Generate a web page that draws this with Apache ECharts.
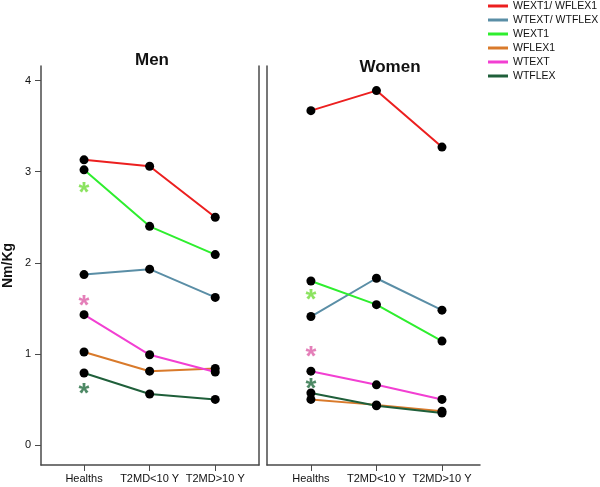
<!DOCTYPE html>
<html>
<head>
<meta charset="utf-8">
<script src="https://cdn.jsdelivr.net/npm/echarts@6/dist/echarts.min.js"></script>
<style>html,body{margin:0;padding:0;background:#fff;}#chart{width:600px;height:487px;}</style>
</head>
<body>
<div id="chart"></div>
<script>
const categories = ['Healths', 'T2MD<10 Y', 'T2MD>10 Y'];
const seriesNames = ['WEXT1/ WFLEX1', 'WTEXT/ WTFLEX', 'WEXT1', 'WFLEX1', 'WTEXT', 'WTFLEX'];
const seriesColors = ['#ec1f1f', '#5a8ea6', '#2eee2e', '#d97a2b', '#f23fd2', '#1f5f3a'];
const yTicks = [0, 1, 2, 3, 4];

// Men
const menWEXT1_WFLEX1 = [3.13, 3.06, 2.50];
const menWTEXT_WTFLEX = [1.87, 1.93, 1.62];
const menWEXT1 = [3.02, 2.40, 2.09];
const menWFLEX1 = [1.02, 0.81, 0.84];
const menWTEXT = [1.43, 0.99, 0.80];
const menWTFLEX = [0.79, 0.56, 0.50];

// Women
const womenWEXT1_WFLEX1 = [3.67, 3.89, 3.27];
const womenWTEXT_WTFLEX = [1.41, 1.83, 1.48];
const womenWEXT1 = [1.80, 1.54, 1.14];
const womenWFLEX1 = [0.50, 0.44, 0.37];
const womenWTEXT = [0.81, 0.66, 0.50];
const womenWTFLEX = [0.57, 0.43, 0.35];

// Significance asterisks at "Healths"
const starNames = ['WEXT1', 'WTEXT', 'WTFLEX'];
const starColors = ['#6fdc3a', '#dd5fa8', '#226b3e'];
const menStars = [2.83, 1.59, 0.62];
const womenStars = [1.65, 1.03, 0.68];

const menData = [menWEXT1_WFLEX1, menWTEXT_WTFLEX, menWEXT1, menWFLEX1, menWTEXT, menWTFLEX];
const womenData = [womenWEXT1_WFLEX1, womenWTEXT_WTFLEX, womenWEXT1, womenWFLEX1, womenWTEXT, womenWTFLEX];

const FONT = 'Liberation Sans, Arial, sans-serif';
const axisCol = '#4a4a4a';

function lineSeries(name, vals, color, gi) {
  return {
    name: name, type: 'line', xAxisIndex: gi, yAxisIndex: gi,
    data: vals.map((v, i) => [i, v]),
    symbol: 'circle', symbolSize: 9,
    lineStyle: { color: color, width: 2 },
    itemStyle: { color: '#000', borderWidth: 0 },
    z: 3
  };
}
function starSeries(vals, gi) {
  return {
    type: 'scatter', xAxisIndex: gi, yAxisIndex: gi,
    data: vals.map((v, i) => ({ value: [0, v], label: { color: starColors[i] } })),
    symbol: 'circle', symbolSize: 1,
    itemStyle: { color: 'rgba(0,0,0,0)' },
    label: { show: true, formatter: '*', position: 'inside', fontSize: 28, fontWeight: 'bold', fontFamily: FONT, offset: [0, 6] },
    silent: true, z: 4
  };
}

const series = [];
seriesNames.forEach((n, i) => series.push(lineSeries(n, menData[i], seriesColors[i], 0)));
seriesNames.forEach((n, i) => series.push(lineSeries(n, womenData[i], seriesColors[i], 1)));
series.push(starSeries(menStars, 0));
series.push(starSeries(womenStars, 1));

function xAxis(gi, min, max) {
  return {
    type: 'value', gridIndex: gi, min: min, max: max,
    axisLine: { show: true, onZero: false, lineStyle: { color: axisCol, width: 1.5 } },
    axisTick: { show: true, customValues: [0, 1, 2], length: 6, lineStyle: { color: axisCol } },
    axisLabel: { customValues: [0, 1, 2], formatter: v => categories[Math.round(v)], fontSize: 11, color: '#111', fontFamily: FONT, margin: 8 },
    splitLine: { show: false }
  };
}

const option = {
  animation: false,
  backgroundColor: '#fff',
  textStyle: { fontFamily: FONT },
  title: [
    { text: 'Men', left: 147, top: 47, textAlign: 'center', textStyle: { fontSize: 17, fontWeight: 'bold', color: '#111', fontFamily: FONT } },
    { text: 'Women', left: 385, top: 54, textAlign: 'center', textStyle: { fontSize: 17, fontWeight: 'bold', color: '#111', fontFamily: FONT } }
  ],
  legend: {
    data: seriesNames.map((n, i) => ({ name: n, itemStyle: { color: seriesColors[i] } })),
    orient: 'vertical', left: 488, top: 0, width: 112, padding: 0,
    icon: 'rect', itemWidth: 20, itemHeight: 3, itemGap: 2,
    textStyle: { fontSize: 10.5, color: '#111', fontFamily: FONT, lineHeight: 12 }
  },
  grid: [
    { left: 40, top: 66, width: 219, height: 399 },
    { left: 267, top: 66, width: 213, height: 399 }
  ],
  xAxis: [xAxis(0, -0.656, 2.667), xAxis(1, -0.67, 2.58)],
  yAxis: [
    {
      type: 'value', gridIndex: 0, min: -0.22, max: 4.16,
      name: 'Nm/Kg', nameLocation: 'middle', nameRotate: 90, nameGap: 26,
      nameTextStyle: { fontSize: 14, fontWeight: 'bold', color: '#111', fontFamily: FONT },
      axisLine: { show: true, onZero: false, lineStyle: { color: axisCol, width: 1.5 } },
      axisTick: { show: true, customValues: yTicks, length: 6, lineStyle: { color: axisCol } },
      axisLabel: { customValues: yTicks, fontSize: 11, color: '#111', margin: 10, fontFamily: FONT },
      splitLine: { show: false }
    },
    {
      type: 'value', gridIndex: 1, min: -0.22, max: 4.16,
      axisLine: { show: true, onZero: false, lineStyle: { color: axisCol, width: 1.5 } },
      axisTick: { show: false }, axisLabel: { show: false }, splitLine: { show: false }
    },
    {
      type: 'value', gridIndex: 0, min: -0.22, max: 4.16, position: 'right',
      axisLine: { show: true, onZero: false, lineStyle: { color: axisCol, width: 1.5 } },
      axisTick: { show: false }, axisLabel: { show: false }, splitLine: { show: false }
    }
  ],
  series: series
};

const chart = echarts.init(document.getElementById('chart'), null, { renderer: 'canvas' });
chart.setOption(option);
</script>
</body>
</html>
